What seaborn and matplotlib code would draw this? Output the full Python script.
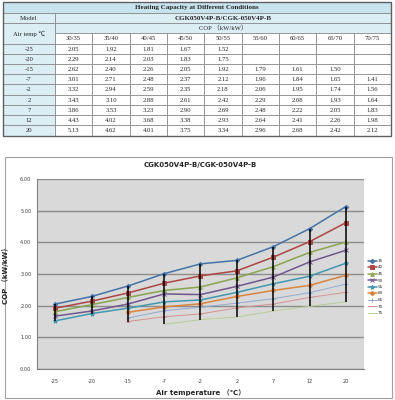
import numpy as np
import pandas as pd
import seaborn as sns
import matplotlib.pyplot as plt
from matplotlib.patches import Rectangle

temps = [-25, -20, -15, -7, -2, 2, 7, 12, 20]
conditions = ["30/35", "35/40", "40/45", "45/50", "50/55", "55/60", "60/65", "65/70", "70/75"]
series_names = ["35", "40", "45", "50", "55", "60", "65", "70", "75"]
nan = np.nan
cop_3035 = [2.05, 2.29, 2.62, 3.01, 3.32, 3.43, 3.86, 4.43, 5.13]
cop_3540 = [1.92, 2.14, 2.40, 2.71, 2.94, 3.10, 3.53, 4.02, 4.62]
cop_4045 = [1.81, 2.03, 2.26, 2.48, 2.59, 2.88, 3.23, 3.68, 4.01]
cop_4550 = [1.67, 1.83, 2.05, 2.37, 2.35, 2.61, 2.90, 3.38, 3.75]
cop_5055 = [1.52, 1.75, 1.92, 2.12, 2.18, 2.42, 2.69, 2.93, 3.34]
cop_5560 = [nan, nan, 1.79, 1.96, 2.06, 2.29, 2.48, 2.64, 2.96]
cop_6065 = [nan, nan, 1.61, 1.84, 1.95, 2.08, 2.22, 2.41, 2.68]
cop_6570 = [nan, nan, 1.50, 1.65, 1.74, 1.93, 2.05, 2.26, 2.42]
cop_7075 = [nan, nan, nan, 1.41, 1.56, 1.64, 1.83, 1.98, 2.12]
columns = [cop_3035, cop_3540, cop_4045, cop_4550, cop_5055,
           cop_5560, cop_6065, cop_6570, cop_7075]

colors = ["#4572A7", "#AA4643", "#89A54E", "#71588F", "#4198AF",
          "#DB843D", "#93A9CF", "#D19392", "#B9CD96"]
markers = ["D", "s", "^", "x", "*", "o", "+", "_", None]
msizes = [2.2, 3, 2.6, 2.6, 3, 2.6, 2.6, 2.6, 0]
lwidths = [1.1, 1.1, 1.1, 1.1, 1.1, 1.1, 0.7, 0.7, 0.7]

sns.set_style("white")
plt.rcParams["font.family"] = ["DejaVu Sans", "Noto Sans CJK SC"]

W, H = 395, 400
fig = plt.figure(figsize=(W / 100, H / 100), dpi=100)

# ---------- table (pixel coordinates) ----------
tb = fig.add_axes([0, 0, 1, 1])
tb.set_xlim(0, W)
tb.set_ylim(H, 0)
tb.axis("off")

serif = ["Liberation Serif", "Noto Sans CJK SC"]
hdr_fill = "#dbeef4"
ttl_fill = "#c6e3ee"
edge = "#808080"
x0, x1, xc = 3, 391, 55
colw = (x1 - xc) / 9
rows_top = [2, 12.8, 23, 33.2, 43.6]
rowh = (135.5 - 43.6) / 9


def cell(x, y, w, h, fill="white", text=None, bold=False, fs=4.8):
    tb.add_patch(Rectangle((x, y), w, h, facecolor=fill, edgecolor=edge, lw=0.5))
    if text is not None:
        tb.text(x + w / 2, y + h / 2 + 0.3, text, ha="center", va="center",
                fontsize=fs, family=serif, fontweight="bold" if bold else "normal")


cell(x0, rows_top[0], x1 - x0, rows_top[1] - rows_top[0], ttl_fill,
     "Heating Capacity at Different Conditions", bold=True, fs=5)
cell(x0, rows_top[1], xc - x0, rows_top[2] - rows_top[1], hdr_fill, "Model")
cell(xc, rows_top[1], x1 - xc, rows_top[2] - rows_top[1], hdr_fill,
     "CGK050V4P-B/CGK-050V4P-B", bold=True, fs=5)
cell(x0, rows_top[2], xc - x0, rows_top[4] - rows_top[2], hdr_fill, "Air temp ℃")
cell(xc, rows_top[2], x1 - xc, rows_top[3] - rows_top[2], hdr_fill, "COP （kW/kW）")
for j, c in enumerate(conditions):
    cell(xc + j * colw, rows_top[3], colw, rows_top[4] - rows_top[3], "white", c)
for i, t in enumerate(temps):
    y = rows_top[4] + i * rowh
    cell(x0, y, xc - x0, rowh, hdr_fill, str(t))
    for j, col in enumerate(columns):
        v = col[i]
        cell(xc + j * colw, y, colw, rowh, "white",
             None if np.isnan(v) else f"{v:.2f}")
tb.add_patch(Rectangle((x0, rows_top[0]), x1 - x0, 135.5 - rows_top[0],
                       fill=False, edgecolor="#606060", lw=1.0))

# chart frame
tb.add_patch(Rectangle((5, 157), 387, 241, fill=False, edgecolor="#a0a0a0", lw=0.8))

# ---------- chart ----------
ax = fig.add_axes([37 / W, 1 - 369 / H, 327 / W, 190 / H])
ax.set_facecolor("#d9d9d9")
pos = np.arange(len(temps))

df = pd.DataFrame({"pos": np.tile(pos, len(series_names)),
                   "cop": np.concatenate(columns),
                   "series": np.repeat(series_names, len(temps))})

for k, name in enumerate(series_names):
    sub = df[df["series"] == name].dropna()
    sns.lineplot(data=sub, x="pos", y="cop", ax=ax, color=colors[k],
                 marker=markers[k], markersize=msizes[k], lw=lwidths[k],
                 markeredgewidth=0.7, markeredgecolor=colors[k],
                 label=name, legend=False, zorder=3)

# high-low lines
arr = np.array(columns, dtype=float)
ax.vlines(pos, np.nanmin(arr, axis=0), np.nanmax(arr, axis=0),
          color="black", lw=1.1, zorder=4)

ax.set_xlim(-0.5, len(temps) - 0.5)
ax.set_ylim(0, 6)
ax.set_yticks(np.arange(0, 7, 1))
ax.set_yticklabels([f"{v:.2f}" for v in range(7)])
ax.set_xticks(pos)
ax.set_xticklabels([str(t) for t in temps])
ax.grid(axis="y", color="#8c8c8c", lw=1.0)
ax.set_axisbelow(True)
ax.tick_params(axis="both", labelsize=3.6, length=2, width=0.5, pad=2,
               colors="#404040")
ax.tick_params(axis="x", length=0, pad=7)
for s in ["top", "right"]:
    ax.spines[s].set_visible(False)
for s in ["left", "bottom"]:
    ax.spines[s].set_color("#808080")
    ax.spines[s].set_linewidth(0.8)
ax.set_xlabel("Air temperature （℃）", fontsize=5, fontweight="bold", labelpad=4,
              family=["DejaVu Sans", "Noto Sans CJK SC"])
ax.set_ylabel("COP （kW/kW）", fontsize=5, fontweight="bold", labelpad=8,
              family=["DejaVu Sans", "Noto Sans CJK SC"])
ax.set_title("CGK050V4P-B/CGK-050V4P-B", fontsize=5, fontweight="bold", pad=9)

handles, labels = ax.get_legend_handles_labels()
fig.legend(handles, labels, loc="center left", bbox_to_anchor=(366 / W, 1 - 287 / H),
           fontsize=3, frameon=False, handlelength=2.2, labelspacing=0.6,
           handletextpad=0.3, borderaxespad=0)

fig.savefig("out.png", dpi=100)
